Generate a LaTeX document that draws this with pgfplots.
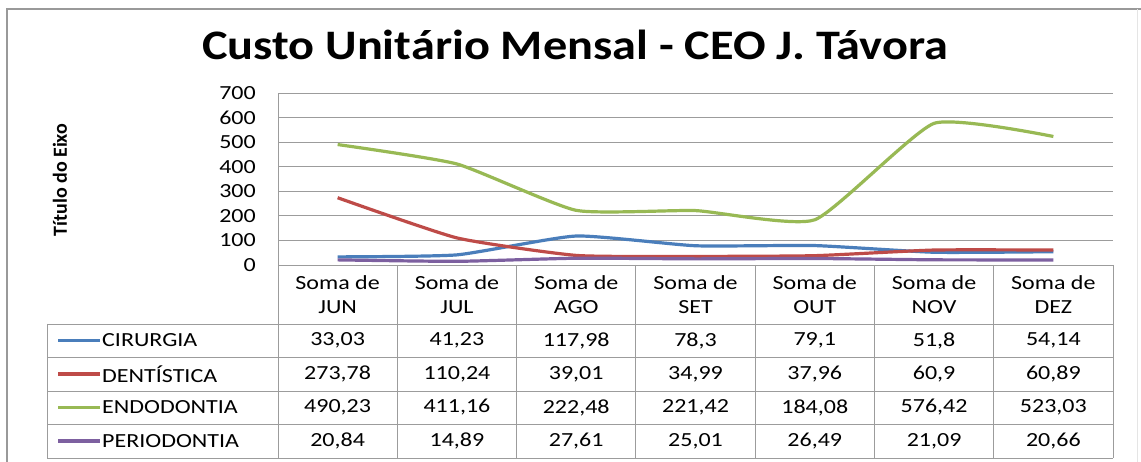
\documentclass[border=0pt]{standalone}
\usepackage{fontspec}
\setmainfont{Carlito}
\newfontfamily\wf[FakeStretch=1.2]{Carlito}
\newfontfamily\tf[FakeStretch=1.15]{Carlito}
\usepackage{pgfplots}
\pgfplotsset{compat=1.18}
\definecolor{cir}{HTML}{4A7EBB}
\definecolor{den}{HTML}{BE4B48}
\definecolor{endo}{HTML}{98B954}
\definecolor{per}{HTML}{7D60A0}
\definecolor{gridc}{HTML}{9C9C9C}
\begin{document}
\begin{tikzpicture}[x=1pt,y=1pt]
\useasboundingbox (0,0) rectangle (1141,461);
\fill[white] (0,0) rectangle (1141,461);
\draw[gray!80, line width=1.3pt] (7,-9) -- (7,452) -- (1141,452);
\draw[gray!20, line width=0.8pt] (1137,452) -- (1137,-9);
\node[font=\tf\bfseries\fontsize{42}{42}\selectfont] at (575,416) {Custo Unitário Mensal - CEO J. Távora};
\node[rotate=90, font=\bfseries\fontsize{20}{20}\selectfont] at (60,281) {Título do Eixo};
\begin{axis}[at={(278pt,196pt)}, anchor=south west, scale only axis,
  width=835pt, height=172pt, xmin=0, xmax=7, ymin=0, ymax=700,
  ytick={0,100,...,700}, xtick=\empty, ymajorgrids,
  grid style={gridc, line width=0.8pt},
  axis line style={draw=none}, tick style={draw=none},
  yticklabel style={font=\wf\fontsize{20}{20}\selectfont, anchor=east, inner sep=0pt, xshift=-22pt},
  /pgf/number format/assume math mode=true, clip=false,
  every axis plot/.append style={line width=3.2pt, smooth, tension=0.3, no marks}]
\draw[gridc, line width=0.8pt] (axis cs:0,0) -- (axis cs:0,700);
\addplot[cir] coordinates {(0.5,33.03)(1.5,41.23)(2.5,117.98)(3.5,78.3)(4.5,79.1)(5.5,51.8)(6.5,54.14)};
\addplot[den] coordinates {(0.5,273.78)(1.5,110.24)(2.5,39.01)(3.5,34.99)(4.5,37.96)(5.5,60.9)(6.5,60.89)};
\addplot[endo] coordinates {(0.5,490.23)(1.5,411.16)(2.5,222.48)(3.5,221.42)(4.5,184.08)(5.5,576.42)(6.5,523.03)};
\addplot[per] coordinates {(0.5,20.84)(1.5,14.89)(2.5,27.61)(3.5,25.01)(4.5,26.49)(5.5,21.09)(6.5,20.66)};
\end{axis}
% data table
\foreach \i in {0,...,7} { \draw[gridc, line width=0.8pt] ({278+119.2857*\i},196) -- ({278+119.2857*\i},3); }
\foreach \y in {137,104,70,37,3} { \draw[gridc, line width=0.8pt] (47,\y) -- (1113,\y); }
\draw[gridc, line width=0.8pt] (47,137) -- (47,3);
\foreach \m [count=\i from 0] in {JUN,JUL,AGO,SET,OUT,NOV,DEZ} {
  \node[align=center, font=\wf\fontsize{20}{24}\selectfont] at ({278+119.2857*(\i+0.5)},166) {Soma de\\\m};
}
\foreach \c/\n/\yy in {cir/CIRURGIA/120.5, den/DENTÍSTICA/87, endo/ENDODONTIA/53.5, per/PERIODONTIA/20} {
  \draw[\c, line width=3.2pt] (58,\yy) -- (100,\yy);
  \node[anchor=west, inner sep=0pt, font=\wf\fontsize{20}{20}\selectfont] at (102,\yy) {\n};
}
\foreach \v [count=\i from 0] in {33{,}03,41{,}23,117{,}98,78{,}3,79{,}1,51{,}8,54{,}14} {
  \node[font=\wf\fontsize{20}{20}\selectfont] at ({278+119.2857*(\i+0.5)},120.5) {\v}; }
\foreach \v [count=\i from 0] in {273{,}78,110{,}24,39{,}01,34{,}99,37{,}96,60{,}9,60{,}89} {
  \node[font=\wf\fontsize{20}{20}\selectfont] at ({278+119.2857*(\i+0.5)},87) {\v}; }
\foreach \v [count=\i from 0] in {490{,}23,411{,}16,222{,}48,221{,}42,184{,}08,576{,}42,523{,}03} {
  \node[font=\wf\fontsize{20}{20}\selectfont] at ({278+119.2857*(\i+0.5)},53.5) {\v}; }
\foreach \v [count=\i from 0] in {20{,}84,14{,}89,27{,}61,25{,}01,26{,}49,21{,}09,20{,}66} {
  \node[font=\wf\fontsize{20}{20}\selectfont] at ({278+119.2857*(\i+0.5)},20) {\v}; }
\end{tikzpicture}
\end{document}
